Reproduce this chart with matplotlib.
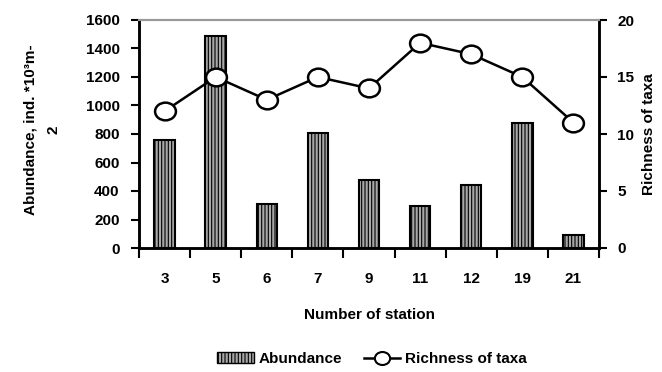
import matplotlib
matplotlib.use("Agg")
import matplotlib.pyplot as plt
from matplotlib.lines import Line2D
from matplotlib.patches import Patch
from matplotlib.path import Path
import numpy as np

plt.rcParams['font.family'] = ['Liberation Sans', 'DejaVu Sans']
plt.rcParams['font.weight'] = 'bold'
plt.rcParams['hatch.color'] = '#333333'
plt.rcParams['hatch.linewidth'] = 0.8

stations = ['3', '5', '6', '7', '9', '11', '12', '19', '21']
abundance = [760, 1490, 310, 810, 480, 295, 440, 880, 90]
richness = [12, 15, 13, 15, 14, 18, 17, 15, 11]

# slightly flattened open circle marker
_circ = Path.unit_circle()
ellipse = Path(_circ.vertices * np.array([1.0, 0.85]), _circ.codes)

FS = 11
fig = plt.figure(figsize=(6.62, 3.72), dpi=100)
L, R, T, B = 139, 599, 20, 248
ax = fig.add_axes([L/662, 1 - B/372, (R - L)/662, (B - T)/372])
x = np.arange(len(stations))

bar_face = '#a8a8a8'
ax.bar(x, abundance, width=0.4, facecolor=bar_face, edgecolor='black',
       linewidth=1.5, hatch='|||||', zorder=2)
ax.set_xlim(-0.5, len(stations) - 0.5)
ax.set_ylim(0, 1600)
ax.set_yticks(range(0, 1601, 200))
ax.tick_params(axis='y', direction='out', length=6, width=1.5, labelsize=FS, pad=8)

# category labels at centres, tick marks at boundaries
ax.set_xticks(x)
ax.set_xticklabels(stations, fontsize=FS, fontweight='bold')
ax.tick_params(axis='x', which='major', length=0, pad=17)
ax.set_xticks(np.arange(-0.5, len(stations), 1.0), minor=True)
ax.tick_params(axis='x', which='minor', direction='out', length=7, width=1.5)

for side in ('left', 'bottom', 'right'):
    ax.spines[side].set_linewidth(1.8)
ax.spines['top'].set_color('#999999')
ax.spines['top'].set_linewidth(1.5)

ax.set_ylabel('Abundance, ind. *10³m-\n2', fontsize=FS, fontweight='bold',
              linespacing=1.8)
ax.yaxis.set_label_coords((60 - L) / (R - L), 0.52)
ax.set_xlabel('Number of station', fontsize=FS, fontweight='bold', labelpad=16)

ax2 = ax.twinx()
ax2.plot(x, richness, color='black', linewidth=1.8, marker=ellipse, markersize=15,
         markerfacecolor='white', markeredgecolor='black', markeredgewidth=1.8,
         zorder=3)
ax2.set_ylim(0, 20)
ax2.set_yticks(range(0, 21, 5))
ax2.tick_params(axis='y', direction='out', length=6, width=1.5, labelsize=FS, pad=7)
for side in ('left', 'bottom', 'right'):
    ax2.spines[side].set_linewidth(1.8)
ax2.spines['top'].set_color('#999999')
ax2.spines['top'].set_linewidth(1.5)
ax2.set_ylabel('Richness of taxa', fontsize=FS, fontweight='bold')
ax2.yaxis.set_label_coords((642 - L) / (R - L), 0.5)

handles = [
    Patch(facecolor=bar_face, edgecolor='black', hatch='|||||', linewidth=1.0),
    Line2D([0], [0], color='black', linewidth=1.8, marker=ellipse, markersize=11,
           markerfacecolor='white', markeredgecolor='black', markeredgewidth=1.5),
]
fig.legend(handles, ['Abundance', 'Richness of taxa'], loc='center',
           bbox_to_anchor=(372/662, 1 - 359/372), ncol=2, frameon=False,
           prop={'size': FS, 'weight': 'bold'}, handlelength=2.4,
           handletextpad=0.3, columnspacing=1.4)

fig.savefig('out.png', dpi=100)
